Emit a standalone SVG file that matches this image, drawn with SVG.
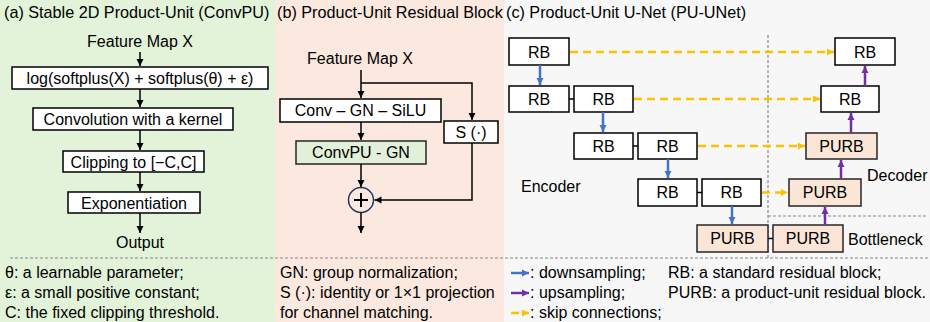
<svg xmlns="http://www.w3.org/2000/svg" width="930" height="322" viewBox="0 0 930 322">
<defs>
<style>
text{font-family:"Liberation Sans",Arial,sans-serif;fill:#000;}
.t{font-size:16.2px;}
.c{font-size:16px;}
.b{font-size:16px;text-anchor:middle;}
.l{font-size:16px;}
.box{fill:#fff;stroke:#000;stroke-width:1.5;}
.pbox{fill:#fbe5d6;stroke:#262626;stroke-width:1.5;}
.gbox{fill:#e2f0d9;stroke:#262626;stroke-width:1.5;}
.ln{fill:none;stroke:#000;stroke-width:1.5;}
.dn{fill:none;stroke:#4472c4;stroke-width:2.5;}
.up{fill:none;stroke:#7030a0;stroke-width:2.5;}
.sk{fill:none;stroke:#ffc000;stroke-width:2.5;stroke-dasharray:8 5;}
.gd{fill:none;stroke:#888;stroke-width:1.2;stroke-dasharray:3 2;}
</style>
<marker id="ak" markerWidth="8" markerHeight="8" refX="7" refY="4" orient="auto" markerUnits="userSpaceOnUse"><path d="M0,0.5 L7,4 L0,7.5 Z" fill="#000"/></marker>
<marker id="ab" markerWidth="8" markerHeight="8" refX="7" refY="4" orient="auto" markerUnits="userSpaceOnUse"><path d="M0,0.5 L7,4 L0,7.5 Z" fill="#4472c4"/></marker>
<marker id="ap" markerWidth="8" markerHeight="8" refX="7" refY="4" orient="auto" markerUnits="userSpaceOnUse"><path d="M0,0.5 L7,4 L0,7.5 Z" fill="#7030a0"/></marker>
<marker id="ay" markerWidth="8" markerHeight="8" refX="7" refY="4" orient="auto" markerUnits="userSpaceOnUse"><path d="M0,0.5 L7,4 L0,7.5 Z" fill="#ffc000"/></marker>
</defs>

<!-- backgrounds -->
<rect x="0" y="0" width="275" height="322" fill="#e2f3d9"/>
<rect x="275" y="0" width="229" height="322" fill="#fbe8de"/>
<rect x="504" y="0" width="426" height="322" fill="#f7f7f7"/>

<!-- titles -->
<text class="t" x="4" y="18">(a) Stable 2D Product-Unit (ConvPU)</text>
<text class="t" x="277" y="18">(b) Product-Unit Residual Block</text>
<text class="t" x="506" y="18">(c) Product-Unit U-Net (PU-UNet)</text>

<!-- separators -->
<g id="separators">
<line class="gd" x1="10" y1="258" x2="928" y2="258"/>
<line class="gd" x1="768" y1="35" x2="768" y2="258"/>
<line class="gd" x1="768" y1="216" x2="928" y2="216"/>
</g>

<!-- panel a -->
<g id="a-input"><text class="b" x="140" y="47">Feature Map X</text></g>
<g id="a-log"><rect class="box" x="12" y="67" width="256" height="22"/><text class="b" x="140" y="84">log(softplus(X) + softplus(θ) + ε)</text></g>
<g id="a-conv"><rect class="box" x="33" y="108" width="200" height="22"/><text class="b" x="133" y="125">Convolution with a kernel</text></g>
<g id="a-clip"><rect class="box" x="63" y="151" width="141" height="21"/><text class="b" x="133.5" y="168">Clipping to [−C,C]</text></g>
<g id="a-exp"><rect class="box" x="68" y="192" width="132" height="21"/><text class="b" x="134" y="209">Exponentiation</text></g>
<g id="a-output"><text class="b" x="140" y="248">Output</text></g>

<!-- panel b -->
<g id="b-input"><text class="b" x="360" y="64">Feature Map X</text></g>
<g id="b-conv"><rect class="box" x="280" y="99" width="161" height="23"/><text class="b" x="360.5" y="116">Conv – GN – SiLU</text></g>
<g id="b-convpu"><rect class="gbox" x="296" y="141" width="130" height="23"/><text class="b" x="361" y="158">ConvPU - GN</text></g>
<g id="b-skip"><rect class="box" x="444" y="121" width="54" height="22"/><text class="b" x="471" y="138">S (·)</text></g>
<g id="b-add"><circle cx="361" cy="200" r="12.5" fill="none" stroke="#1f3864" stroke-width="1.5"/><path d="M354,200 H368 M361,193 V207" stroke="#000" stroke-width="2"/></g>

<!-- panel c nodes -->
<g id="c-rb1"><rect class="box" x="509" y="38" width="60" height="27"/><text class="b" x="539" y="58">RB</text></g>
<g id="c-rb2a"><rect class="box" x="509" y="86" width="60" height="26"/><text class="b" x="539" y="105">RB</text></g>
<g id="c-rb2b"><rect class="box" x="574" y="86" width="59" height="26"/><text class="b" x="603.5" y="105">RB</text></g>
<g id="c-rb3a"><rect class="box" x="574" y="133" width="59" height="26"/><text class="b" x="603.5" y="152">RB</text></g>
<g id="c-rb3b"><rect class="box" x="638" y="133" width="59" height="26"/><text class="b" x="667.5" y="152">RB</text></g>
<g id="c-rb4a"><rect class="box" x="638" y="179" width="59" height="27"/><text class="b" x="667.5" y="198">RB</text></g>
<g id="c-rb4b"><rect class="box" x="702" y="179" width="59" height="27"/><text class="b" x="731.5" y="198">RB</text></g>
<g id="c-bn1"><rect class="pbox" x="697" y="225" width="71" height="27"/><text class="b" x="732.5" y="244">PURB</text></g>
<g id="c-bn2"><rect class="pbox" x="773" y="225" width="70" height="27"/><text class="b" x="808" y="244">PURB</text></g>
<g id="c-d4"><rect class="pbox" x="789" y="179" width="72" height="27"/><text class="b" x="825" y="198">PURB</text></g>
<g id="c-d3"><rect class="pbox" x="806" y="133" width="71" height="26"/><text class="b" x="841.5" y="152">PURB</text></g>
<g id="c-d2"><rect class="box" x="821" y="86" width="58" height="26"/><text class="b" x="850" y="105">RB</text></g>
<g id="c-d1"><rect class="box" x="835" y="38" width="60" height="27"/><text class="b" x="865" y="58">RB</text></g>
<g id="c-labels">
<text class="c" x="521" y="192">Encoder</text>
<text class="c" x="867" y="181">Decoder</text>
<text class="c" x="848" y="245">Bottleneck</text>
</g>

<!-- connectors -->
<g id="connectors">
<!-- panel a -->
<line class="ln" x1="140" y1="52" x2="140" y2="66" marker-end="url(#ak)"/>
<line class="ln" x1="140" y1="89" x2="140" y2="107" marker-end="url(#ak)"/>
<line class="ln" x1="140" y1="130" x2="140" y2="150" marker-end="url(#ak)"/>
<line class="ln" x1="140" y1="172" x2="140" y2="191" marker-end="url(#ak)"/>
<line class="ln" x1="140" y1="213" x2="140" y2="233" marker-end="url(#ak)"/>
<!-- panel b -->
<line class="ln" x1="361" y1="70" x2="361" y2="98" marker-end="url(#ak)"/>
<polyline class="ln" points="361,83 472,83 472,120" marker-end="url(#ak)"/>
<line class="ln" x1="361" y1="122" x2="361" y2="140" marker-end="url(#ak)"/>
<line class="ln" x1="361" y1="164" x2="361" y2="187" marker-end="url(#ak)"/>
<polyline class="ln" points="472,143 472,200 374.5,200" marker-end="url(#ak)"/>
<line class="ln" x1="361" y1="212.5" x2="361" y2="233" marker-end="url(#ak)"/>
<!-- panel c block joins -->
<line class="ln" x1="569" y1="99" x2="574" y2="99"/>
<line class="ln" x1="633" y1="146" x2="638" y2="146"/>
<line class="ln" x1="697" y1="192.5" x2="702" y2="192.5"/>
<line class="ln" x1="768" y1="238.5" x2="773" y2="238.5"/>
<!-- downsampling -->
<line class="dn" x1="540" y1="65" x2="540" y2="85" marker-end="url(#ab)"/>
<line class="dn" x1="603" y1="112" x2="603" y2="132" marker-end="url(#ab)"/>
<line class="dn" x1="668" y1="159" x2="668" y2="178" marker-end="url(#ab)"/>
<line class="dn" x1="732" y1="206" x2="732" y2="224" marker-end="url(#ab)"/>
<!-- upsampling -->
<line class="up" x1="825" y1="225" x2="825" y2="207" marker-end="url(#ap)"/>
<line class="up" x1="841" y1="179" x2="841" y2="160" marker-end="url(#ap)"/>
<line class="up" x1="851" y1="133" x2="851" y2="113" marker-end="url(#ap)"/>
<line class="up" x1="865" y1="86" x2="865" y2="66" marker-end="url(#ap)"/>
<!-- skips -->
<line class="sk" x1="570" y1="52" x2="834" y2="52" marker-end="url(#ay)"/>
<line class="sk" x1="634" y1="99" x2="820" y2="99" marker-end="url(#ay)"/>
<line class="sk" x1="698" y1="146" x2="805" y2="146" marker-end="url(#ay)"/>
<line class="sk" x1="762" y1="192.5" x2="788" y2="192.5" marker-end="url(#ay)"/>
</g>

<!-- legends -->
<g id="legend-a">
<text class="l" x="5" y="278">θ: a learnable parameter;</text>
<text class="l" x="5" y="298">ε: a small positive constant;</text>
<text class="l" x="5" y="318">C: the fixed clipping threshold.</text>
</g>
<g id="legend-b">
<text class="l" x="280" y="278">GN: group normalization;</text>
<text class="l" x="280" y="298">S (·): identity or 1×1 projection</text>
<text class="l" x="280" y="318">for channel matching.</text>
</g>
<g id="legend-c">
<line class="dn" x1="511" y1="273" x2="529" y2="273" stroke-width="2" marker-end="url(#ab)"/>
<text class="l" x="530" y="278">: downsampling;</text>
<line class="up" x1="511" y1="293" x2="529" y2="293" stroke-width="2" marker-end="url(#ap)"/>
<text class="l" x="530" y="298">: upsampling;</text>
<line class="sk" x1="511" y1="313" x2="529" y2="313" stroke-width="2" stroke-dasharray="5 3" marker-end="url(#ay)"/>
<text class="l" x="530" y="318">: skip connections;</text>
<text class="l" x="668" y="278">RB: a standard residual block;</text>
<text class="l" x="668" y="298">PURB: a product-unit residual block.</text>
</g>
</svg>
